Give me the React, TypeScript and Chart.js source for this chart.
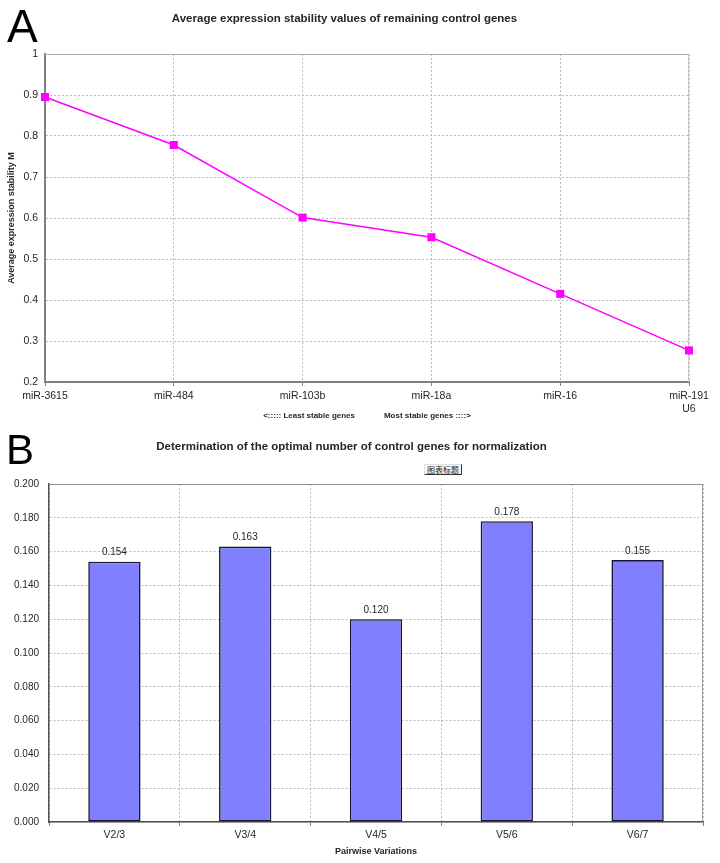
import React, { useEffect, useRef } from 'react';
import { Chart, registerables } from 'chart.js';

Chart.register(...registerables);

// ---- Panel A data ----
const geneLabels: (string | string[])[] = ['miR-3615', 'miR-484', 'miR-103b', 'miR-18a', 'miR-16', ['miR-191', 'U6']];
const stabilityM = [0.895, 0.778, 0.601, 0.553, 0.415, 0.277];
const titleA = 'Average expression stability values of remaining control genes';
const yTitleA = 'Average expression stability M';
const xTitleA = '<::::: Least stable genes             Most stable genes ::::>';

// ---- Panel B data ----
const pairLabels = ['V2/3', 'V3/4', 'V4/5', 'V5/6', 'V6/7'];
const pairValues = [0.154, 0.163, 0.12, 0.178, 0.155];
const titleB = 'Determination of the optimal number of control genes for normalization';
const xTitleB = 'Pairwise Variations';
const legendStub = '图表标题';

const FONT = "'Liberation Sans', Arial, sans-serif";
const TEXT = '#262626';
const GRID = '#bdbdbd';
const DASH = [2, 2];

function borderPlugin(id: string, topColor: string, rightColor: string) {
  return {
    id,
    beforeDatasetsDraw(chart: any) {
      const { ctx, chartArea: a } = chart;
      ctx.save();
      ctx.lineWidth = 1;
      ctx.setLineDash([]);
      ctx.strokeStyle = topColor;
      ctx.beginPath();
      ctx.moveTo(a.left, a.top + 0.5);
      ctx.lineTo(a.right, a.top + 0.5);
      ctx.stroke();
      ctx.strokeStyle = rightColor;
      ctx.beginPath();
      ctx.moveTo(a.right - 0.5, a.top);
      ctx.lineTo(a.right - 0.5, a.bottom);
      ctx.stroke();
      ctx.restore();
    },
  };
}

const barLabelPlugin = {
  id: 'barLabels',
  afterDatasetsDraw(chart: any) {
    const { ctx } = chart;
    const meta = chart.getDatasetMeta(0);
    ctx.save();
    ctx.font = `10px ${FONT}`;
    ctx.fillStyle = TEXT;
    ctx.textAlign = 'center';
    ctx.textBaseline = 'bottom';
    meta.data.forEach((el: any, i: number) => {
      ctx.fillText(pairValues[i].toFixed(3), el.x, el.y - 4);
    });
    ctx.restore();
  },
};

function LineChartA() {
  const ref = useRef<HTMLCanvasElement>(null);
  useEffect(() => {
    const chart = new Chart(ref.current!, {
      type: 'line',
      data: {
        labels: geneLabels as any,
        datasets: [
          {
            data: stabilityM,
            borderColor: '#FF00FF',
            backgroundColor: '#FF00FF',
            borderWidth: 1.5,
            pointStyle: 'rect',
            pointRadius: 5.7,
            pointBorderWidth: 0,
            tension: 0,
            clip: false as any,
          },
        ],
      },
      options: {
        responsive: false,
        animation: false,
        layout: { padding: { left: 0, right: 31, top: 0, bottom: 0 } },
        plugins: {
          legend: { display: false },
          tooltip: { enabled: false },
          title: {
            display: true,
            text: titleA,
            color: TEXT,
            font: { family: FONT, size: 11.5, weight: 'bold', lineHeight: 1.2 },
            padding: { top: 12.1, bottom: 28.1 },
          },
        },
        scales: {
          x: {
            type: 'category',
            offset: false,
            grid: {
              color: GRID,
              drawTicks: true,
              tickLength: 4,
              tickColor: '#808080',
              tickBorderDash: [],
            },
            border: { display: true, color: '#808080', width: 2, dash: DASH },
            ticks: {
              color: TEXT,
              font: { family: FONT, size: 10.5, lineHeight: 1.2 },
              padding: 4,
              maxRotation: 0,
              autoSkip: false,
            },
            title: {
              display: true,
              text: xTitleA,
              color: TEXT,
              font: { family: FONT, size: 8, weight: 'bold', lineHeight: 1.2 },
              padding: { top: 0, bottom: 0 },
            },
            afterFit(scale: any) {
              scale.height = 39;
            },
          } as any,
          y: {
            min: 0.2,
            max: 1,
            ticks: {
              stepSize: 0.1,
              color: TEXT,
              font: { family: FONT, size: 10.5 },
              padding: 7,
              callback: (v: any) => String(Number(Number(v).toFixed(1))),
            },
            grid: { color: GRID, drawTicks: false },
            border: { display: true, color: '#808080', width: 2, dash: DASH },
            title: {
              display: true,
              text: yTitleA,
              color: TEXT,
              font: { family: FONT, size: 9, weight: 'bold', lineHeight: 1.2 },
              padding: { top: 6.6, bottom: 0 },
            },
            afterFit(scale: any) {
              scale.width = 45;
            },
          } as any,
        },
      },
      plugins: [borderPlugin('borderA', '#b0b0b0', '#c8c8c8')],
    } as any);
    return () => chart.destroy();
  }, []);
  return <canvas ref={ref} width={720} height={421} style={{ display: 'block' }} />;
}

function BarChartB() {
  const ref = useRef<HTMLCanvasElement>(null);
  useEffect(() => {
    const chart = new Chart(ref.current!, {
      type: 'bar',
      data: {
        labels: pairLabels,
        datasets: [
          {
            data: pairValues,
            backgroundColor: '#8080FF',
            borderColor: '#151530',
            borderWidth: 1.6,
            borderSkipped: false,
            barPercentage: 0.4,
            categoryPercentage: 1,
          },
        ],
      },
      options: {
        responsive: false,
        animation: false,
        layout: { padding: { left: 0, right: 17, top: 0, bottom: 0 } },
        plugins: {
          legend: { display: false },
          tooltip: { enabled: false },
          title: {
            display: true,
            text: titleB,
            color: TEXT,
            font: { family: FONT, size: 11.5, weight: 'bold', lineHeight: 1.2 },
            padding: { top: 15.1, bottom: 30.1 },
          },
        },
        scales: {
          x: {
            grid: {
              color: GRID,
              offset: true,
              drawTicks: true,
              tickLength: 4,
              tickColor: '#808080',
              tickBorderDash: [],
            },
            border: { display: true, color: '#505050', width: 1.5, dash: DASH },
            ticks: {
              color: TEXT,
              font: { family: FONT, size: 10.5, lineHeight: 1.2 },
              padding: 3,
            },
            title: {
              display: true,
              text: xTitleB,
              color: TEXT,
              font: { family: FONT, size: 9, weight: 'bold', lineHeight: 1.2 },
              padding: { top: 5.6, bottom: 5.6 },
            },
            afterFit(scale: any) {
              scale.height = 41;
            },
          } as any,
          y: {
            min: 0,
            max: 0.2,
            ticks: {
              stepSize: 0.02,
              color: TEXT,
              font: { family: FONT, size: 10 },
              padding: 10,
              callback: (v: any) => Number(v).toFixed(3),
            },
            grid: { color: GRID, drawTicks: false },
            border: { display: true, color: '#505050', width: 1.5, dash: DASH },
            afterFit(scale: any) {
              scale.width = 49;
            },
          } as any,
        },
      },
      plugins: [borderPlugin('borderB', '#909090', '#a0a0a0'), barLabelPlugin],
    } as any);
    return () => chart.destroy();
  }, []);
  return <canvas ref={ref} width={720} height={438} style={{ display: 'block' }} />;
}

export default function App() {
  return (
    <div style={{ position: 'absolute', left: 0, top: 0, width: 720, height: 863, background: '#fff', overflow: 'hidden' }}>
      <div style={{ position: 'absolute', left: 0, top: 0 }}>
        <LineChartA />
      </div>
      <div style={{ position: 'absolute', left: 0, top: 425 }}>
        <BarChartB />
      </div>
      <div style={{ position: 'absolute', left: 7, top: 3, font: `46px/46px ${FONT}`, color: '#000' }}>A</div>
      <div style={{ position: 'absolute', left: 6, top: 429, font: `42px/42px ${FONT}`, color: '#000' }}>B</div>
      <div
        style={{
          position: 'absolute',
          left: 424,
          top: 464,
          width: 38,
          height: 11,
          boxSizing: 'border-box',
          borderTop: '1px solid #e0e0e0',
          borderLeft: '1px solid #e0e0e0',
          borderRight: '1px solid #333',
          borderBottom: '1px solid #333',
          background: '#f6f6f2',
          font: "8px/9px 'Noto Sans CJK SC', sans-serif",
          color: '#222',
          textAlign: 'center',
          whiteSpace: 'nowrap',
          overflow: 'hidden',
        }}
      >
        {legendStub}
      </div>
    </div>
  );
}
